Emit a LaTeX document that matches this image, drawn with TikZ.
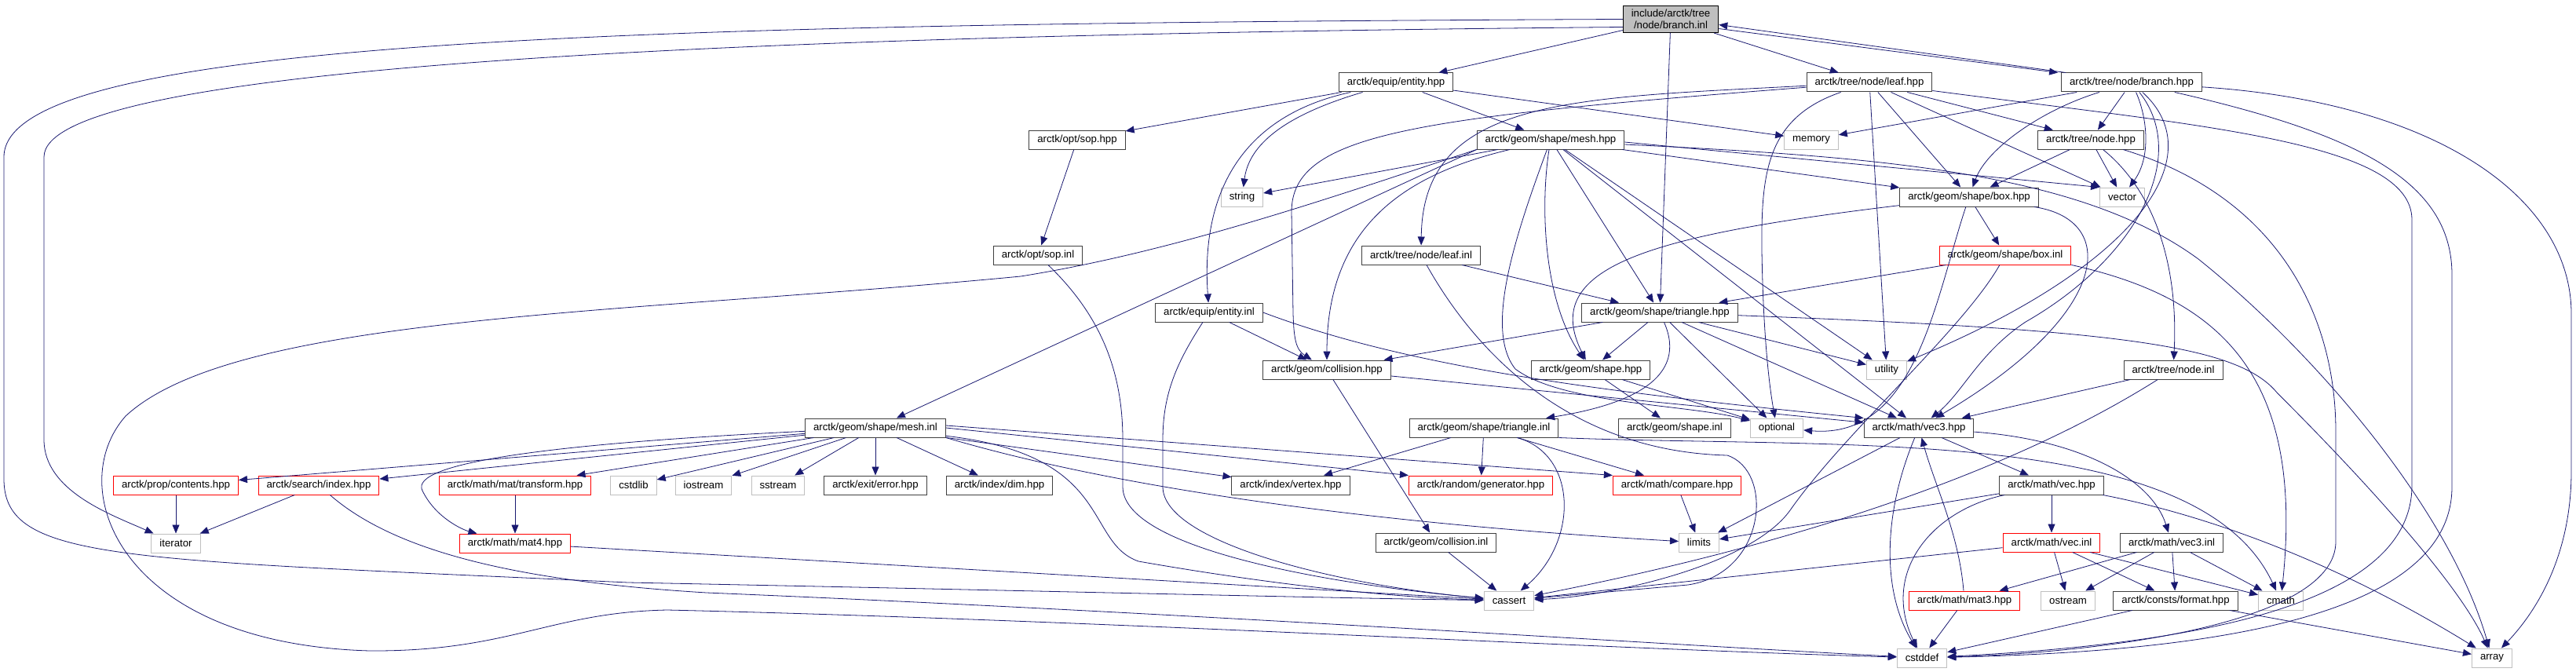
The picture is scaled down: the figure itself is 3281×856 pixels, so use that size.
\documentclass[tikz,border=0pt]{standalone}
\usepackage{fontspec}
\setmainfont{Liberation Sans}
\usetikzlibrary{arrows.meta}
\definecolor{edgeblue}{HTML}{191970}
\definecolor{boxgray}{HTML}{BFBFBF}
\definecolor{boxdark}{HTML}{404040}

\begin{document}
\begin{tikzpicture}[x=1pt, y=-1pt,
	every node/.style={font=\fontsize{13.2}{14.5}\selectfont, inner xsep=10.5pt, inner ysep=2pt, minimum height=24pt, fill=white, line width=1pt},
	hdr/.style={draw=boxdark},
	sys/.style={draw=boxgray},
	trunc/.style={draw=red},
	top/.style={draw=black, fill=boxgray, align=center, inner ysep=5pt},
	dep/.style={draw=edgeblue, line width=0.8pt, -{Triangle[length=11pt,width=9pt]}}]
	\useasboundingbox (0,0) rectangle (3281,856);
	
	% Files
	\node[top] (brinl) at (2128,24.5) {include/arctk/tree\\/node/branch.inl};
	\node[hdr] (enthpp) at (1778,105) {arctk/equip/entity.hpp};
	\node[hdr] (leafhpp) at (2381,105) {arctk/tree/node/leaf.hpp};
	\node[hdr] (brhpp) at (2715,105) {arctk/tree/node/branch.hpp};
	\node[hdr] (sophpp) at (1372,178) {arctk/opt/sop.hpp};
	\node[hdr] (meshhpp) at (1975,178) {arctk/geom/shape/mesh.hpp};
	\node[sys] (memory) at (2307,178) {memory};
	\node[hdr] (nodehpp) at (2663,178) {arctk/tree/node.hpp};
	\node[sys] (string) at (1582,251) {string};
	\node[hdr] (boxhpp) at (2508,251) {arctk/geom/shape/box.hpp};
	\node[sys] (vector) at (2703,251) {vector};
	\node[hdr] (sopinl) at (1322,325) {arctk/opt/sop.inl};
	\node[hdr] (leafinl) at (1810,325) {arctk/tree/node/leaf.inl};
	\node[trunc] (boxinl) at (2554,325) {arctk/geom/shape/box.inl};
	\node[hdr] (entinl) at (1540,398) {arctk/equip/entity.inl};
	\node[hdr] (trihpp) at (2114,398) {arctk/geom/shape/triangle.hpp};
	\node[hdr] (collhpp) at (1690,471) {arctk/geom/collision.hpp};
	\node[hdr] (shapehpp) at (2026,471) {arctk/geom/shape.hpp};
	\node[sys] (utility) at (2403,471) {utility};
	\node[hdr] (nodeinl) at (2768,471) {arctk/tree/node.inl};
	\node[hdr] (meshinl) at (1115,545) {arctk/geom/shape/mesh.inl};
	\node[hdr] (triinl) at (1890,545) {arctk/geom/shape/triangle.inl};
	\node[hdr] (shapeinl) at (2133,545) {arctk/geom/shape.inl};
	\node[sys] (optional) at (2263,545) {optional};
	\node[hdr] (vec3hpp) at (2444,545) {arctk/math/vec3.hpp};
	\node[trunc] (contents) at (224,618) {arctk/prop/contents.hpp};
	\node[trunc] (srchidx) at (406,618) {arctk/search/index.hpp};
	\node[trunc] (transform) at (656,618) {arctk/math/mat/transform.hpp};
	\node[sys] (cstdlib) at (807,618) {cstdlib};
	\node[sys] (iostream) at (896,618) {iostream};
	\node[sys] (sstream) at (991,618) {sstream};
	\node[hdr] (errorhpp) at (1115,618) {arctk/exit/error.hpp};
	\node[hdr] (dimhpp) at (1273,618) {arctk/index/dim.hpp};
	\node[hdr] (vertexhpp) at (1644,618) {arctk/index/vertex.hpp};
	\node[trunc] (generator) at (1886,618) {arctk/random/generator.hpp};
	\node[trunc] (compare) at (2136,618) {arctk/math/compare.hpp};
	\node[hdr] (vechpp) at (2613,618) {arctk/math/vec.hpp};
	\node[sys] (iterator) at (224,692) {iterator};
	\node[trunc] (mat4hpp) at (656,692) {arctk/math/mat4.hpp};
	\node[hdr] (collinl) at (1829,691) {arctk/geom/collision.inl};
	\node[sys] (limits) at (2164,691) {limits};
	\node[trunc] (vecinl) at (2613,691) {arctk/math/vec.inl};
	\node[hdr] (vec3inl) at (2766,691) {arctk/math/vec3.inl};
	\node[sys] (cassert) at (1922,765) {cassert};
	\node[trunc] (mat3hpp) at (2502,765) {arctk/math/mat3.hpp};
	\node[sys] (ostream) at (2634,765) {ostream};
	\node[hdr] (format) at (2771,765) {arctk/consts/format.hpp};
	\node[sys] (cmath) at (2905,765) {cmath};
	\node[sys] (cstddef) at (2448,838) {cstddef};
	\node[sys] (array) at (3174,838) {array};
	
	% branch.inl
	\draw[dep] (brinl) -- (enthpp);
	\draw[dep] (brinl) -- (leafhpp);
	\draw[dep] ([yshift=-12pt]brinl.east) -- ([xshift=-4pt]brhpp.north west);
	\draw[dep] (brinl) -- (trihpp);
	\draw[dep] ([yshift=-10pt]brinl.west) .. controls (900,45) and (56,85) .. (56,200) -- (56,560) .. controls (56,625) and (140,655) .. (iterator);
	\draw[dep] (brinl.west) .. controls (800,30) and (5,50) .. (5,200) -- (5,610) .. controls (5,715) and (150,712) .. (800,742) .. controls (1300,752) and (1700,762) .. (cassert);
	
	% branch.hpp
	\draw[dep] ([xshift=6pt]brhpp.north west) -- ([yshift=-7pt]brinl.east);
	\draw[dep] (brhpp) -- (memory);
	\draw[dep] (brhpp) .. controls (2600,140) and (2530,190) .. (boxhpp);
	\draw[dep] (brhpp) -- (nodehpp);
	\draw[dep] (brhpp) .. controls (2735,150) and (2740,200) .. (vector);
	\draw[dep] (brhpp) .. controls (2820,200) and (2720,340) .. (utility);
	\draw[dep] (brhpp) .. controls (2790,200) and (2720,330) .. (2580,410) .. controls (2520,450) and (2500,500) .. (vec3hpp);
	\draw[dep] (brhpp) .. controls (3000,170) and (3123,230) .. (3123,350) -- (3123,620) .. controls (3123,790) and (2800,830) .. (cstddef);
	\draw[dep] (brhpp) .. controls (3100,130) and (3275,250) .. (3275,400) -- (3275,600) .. controls (3275,720) and (3220,790) .. (array);
	
	% leaf.hpp
	\draw[dep] (leafhpp) .. controls (1800,150) and (1645,170) .. (1645,270) -- (1647,400) .. controls (1648,430) and (1650,445) .. (collhpp);
	\draw[dep] (leafhpp) .. controls (2000,125) and (1812,125) .. (leafinl);
	\draw[dep] (leafhpp) .. controls (2250,150) and (2243,220) .. (2244,320) .. controls (2246,440) and (2255,500) .. (optional);
	\draw[dep] (leafhpp) -- (utility);
	\draw[dep] (leafhpp) -- (boxhpp);
	\draw[dep] (leafhpp) -- (nodehpp);
	\draw[dep] (leafhpp) -- (vector);
	\draw[dep] (leafhpp) .. controls (2800,160) and (3072,180) .. (3072,280) -- (3072,620) .. controls (3070,770) and (2800,820) .. (cstddef);
	
	% node.hpp
	\draw[dep] (nodehpp) -- (boxhpp);
	\draw[dep] (nodehpp) -- (vector);
	\draw[dep] (nodehpp) .. controls (2740,240) and (2775,330) .. (nodeinl);
	\draw[dep] (nodehpp) .. controls (2900,250) and (2975,400) .. (2975,550) -- (2975,690) .. controls (2975,790) and (2700,830) .. (cstddef);
	
	% entity.hpp
	\draw[dep] (enthpp) -- (sophpp);
	\draw[dep] (enthpp) -- (meshhpp);
	\draw[dep] (enthpp) -- (memory);
	\draw[dep] (enthpp) .. controls (1625,150) and (1590,190) .. (string);
	\draw[dep] (enthpp) .. controls (1570,150) and (1530,260) .. (entinl);
	
	% sop
	\draw[dep] (sophpp) -- (sopinl);
	\draw[dep] (sopinl) .. controls (1400,400) and (1430,470) .. (1430,560) -- (1430,620) .. controls (1430,700) and (1700,745) .. (cassert);
	
	% entity.inl
	\draw[dep] (entinl) -- (collhpp);
	\draw[dep] (entinl.east) .. controls (1800,470) and (2050,500) .. (vec3hpp.north west);
	\draw[dep] (entinl) .. controls (1500,460) and (1481,500) .. (1481,560) -- (1481,620) .. controls (1481,690) and (1700,745) .. (cassert);
	
	% mesh.hpp
	\draw[dep] (meshhpp) -- (string);
	\draw[dep] (meshhpp.south west) -- (meshinl);
	\draw[dep] (meshhpp.south west) .. controls (1700,250) and (1500,320) .. (1300,352) .. controls (800,400) and (300,400) .. (160,530) .. controls (80,620) and (150,820) .. (471,829) .. controls (650,830) and (700,780) .. (850,777) .. controls (1400,790) and (2000,825) .. (cstddef);
	\draw[dep] (meshhpp) .. controls (1800,220) and (1690,280) .. (collhpp);
	\draw[dep] (meshhpp) .. controls (1962,260) and (1965,380) .. (shapehpp);
	\draw[dep] (meshhpp) .. controls (1930,300) and (1890,420) .. (1930,470) .. controls (1990,515) and (2150,515) .. (optional);
	\draw[dep] (meshhpp) -- (trihpp);
	\draw[dep] (meshhpp) -- (vec3hpp);
	\draw[dep] (meshhpp) -- (utility);
	\draw[dep] (meshhpp) -- (boxhpp);
	\draw[dep] ([yshift=-3pt]meshhpp.east) -- (vector.north west);
	\draw[dep] ([yshift=-6pt]meshhpp.east) .. controls (2400,200) and (2650,220) .. (2800,330) .. controls (2950,450) and (3120,650) .. (array);
	
	% box.hpp
	\draw[dep] (boxhpp) .. controls (2100,300) and (1960,340) .. (shapehpp);
	\draw[dep] (boxhpp) -- (boxinl);
	\draw[dep] (boxhpp) .. controls (2465,380) and (2440,560) .. (optional);
	\draw[dep] (boxhpp) .. controls (2700,280) and (2690,400) .. (vec3hpp);
	
	% box.inl
	\draw[dep] (boxinl) -- (trihpp);
	\draw[dep] (boxinl) .. controls (2500,420) and (2350,550) .. (2280,650) .. controls (2230,720) and (2050,760) .. (cassert);
	\draw[dep] (boxinl.south east) .. controls (2830,380) and (2935,480) .. (cmath);
	
	% triangle.hpp
	\draw[dep] (trihpp) -- (collhpp);
	\draw[dep] (trihpp) -- (shapehpp);
	\draw[dep] (trihpp) .. controls (2150,480) and (2080,515) .. (triinl);
	\draw[dep] (trihpp) -- (vec3hpp);
	\draw[dep] (trihpp) -- (optional);
	\draw[dep] (trihpp) -- (utility);
	\draw[dep] (trihpp) .. controls (2700,420) and (2850,440) .. (2900,500) .. controls (3050,650) and (3140,760) .. (array);
	
	% leaf.inl
	\draw[dep] (leafinl) -- (trihpp);
	\draw[dep] (leafinl) .. controls (1880,450) and (2000,575) .. (2200,580) .. controls (2260,600) and (2250,730) .. (2150,745) -- (cassert);
	
	% collision, shape, node.inl
	\draw[dep] (collhpp) -- (collinl);
	\draw[dep] (collhpp) -- (vec3hpp);
	\draw[dep] (shapehpp) -- (shapeinl);
	\draw[dep] (shapehpp) -- (optional);
	\draw[dep] (nodeinl) -- (vec3hpp);
	\draw[dep] (nodeinl) .. controls (2500,640) and (2150,720) .. (cassert);
	
	% mesh.inl
	\draw[dep] (meshinl) -- (contents);
	\draw[dep] (meshinl) -- (srchidx);
	\draw[dep] (meshinl) .. controls (700,565) and (520,590) .. (538,625) .. controls (555,660) and (590,675) .. (mat4hpp);
	\draw[dep] (meshinl) -- (transform);
	\draw[dep] (meshinl) -- (cstdlib);
	\draw[dep] (meshinl) -- (iostream);
	\draw[dep] (meshinl) -- (sstream);
	\draw[dep] (meshinl) -- (errorhpp);
	\draw[dep] (meshinl) -- (dimhpp);
	\draw[dep] (meshinl) -- (vertexhpp);
	\draw[dep] (meshinl.east) -- (generator.north west);
	\draw[dep] ([yshift=3pt]meshinl.east) -- (compare.north west);
	\draw[dep] (meshinl.south east) .. controls (1450,630) and (1800,670) .. (limits);
	\draw[dep] (meshinl) .. controls (1420,580) and (1380,690) .. (1450,715) .. controls (1650,750) and (1800,762) .. (cassert);
	
	% contents, index, transform, mat4
	\draw[dep] (contents) -- (iterator);
	\draw[dep] (srchidx) -- (iterator);
	\draw[dep] (srchidx) .. controls (500,700) and (650,740) .. (900,755) .. controls (1500,780) and (2100,820) .. (cstddef);
	\draw[dep] (transform) -- (mat4hpp);
	\draw[dep] (mat4hpp) -- (cassert);
	
	% triangle.inl
	\draw[dep] (triinl) -- (vertexhpp);
	\draw[dep] (triinl) -- (generator);
	\draw[dep] (triinl) -- (compare);
	\draw[dep] (triinl) .. controls (2010,580) and (2010,690) .. (cassert);
	\draw[dep] (triinl.south east) .. controls (2350,572) and (2800,540) .. (cmath);
	\draw[dep] (compare) -- (limits);
	\draw[dep] (collinl) -- (cassert);
	
	% vec3.hpp
	\draw[dep] (vec3hpp) -- (vechpp);
	\draw[dep] (vec3hpp) .. controls (2650,560) and (2740,610) .. (vec3inl);
	\draw[dep] (vec3hpp) -- (limits);
	\draw[dep] (vec3hpp) .. controls (2400,650) and (2395,750) .. (cstddef);
	
	% vec.hpp
	\draw[dep] (vechpp) -- (vecinl);
	\draw[dep] (vechpp) .. controls (2780,650) and (2950,700) .. (array);
	\draw[dep] (vechpp) -- (limits);
	\draw[dep] (vechpp) .. controls (2460,650) and (2395,730) .. (cstddef);
	
	% vec.inl
	\draw[dep] (vecinl) -- (ostream);
	\draw[dep] (vecinl) -- (format);
	\draw[dep] (vecinl) -- (cmath);
	\draw[dep] (vecinl) -- (cassert);
	
	% vec3.inl
	\draw[dep] (vec3inl) -- (mat3hpp);
	\draw[dep] (vec3inl) -- (ostream);
	\draw[dep] (vec3inl) -- (format);
	\draw[dep] (vec3inl) -- (cmath);
	
	% mat3, format
	\draw[dep] (mat3hpp) .. controls (2495,680) and (2465,620) .. (vec3hpp);
	\draw[dep] (mat3hpp) -- (cstddef);
	\draw[dep] (format) -- (cstddef);
	\draw[dep] (format) -- (array);
\end{tikzpicture}
\end{document}
